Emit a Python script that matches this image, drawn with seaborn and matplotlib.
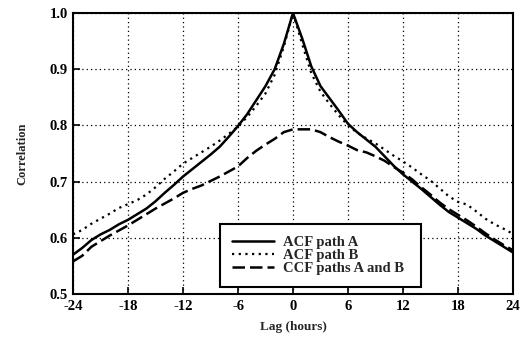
import matplotlib
matplotlib.use("Agg")
import matplotlib.pyplot as plt
import seaborn as sns
import pandas as pd
from matplotlib.ticker import MultipleLocator

# lags in hours
lags = list(range(-24, 25))

acf_a = [0.570, 0.582, 0.596, 0.606, 0.614, 0.624, 0.632, 0.642, 0.652, 0.665,
         0.680, 0.694, 0.709, 0.722, 0.735, 0.748, 0.762, 0.780, 0.799, 0.820,
         0.845, 0.870, 0.900, 0.945, 1.000, 0.955, 0.905, 0.870, 0.848, 0.826,
         0.803, 0.788, 0.775, 0.762, 0.745, 0.728, 0.713, 0.700, 0.687, 0.673,
         0.659, 0.646, 0.636, 0.626, 0.616, 0.604, 0.594, 0.584, 0.574]

acf_b = [0.606, 0.614, 0.625, 0.634, 0.643, 0.653, 0.660, 0.667, 0.677, 0.690,
         0.705, 0.718, 0.732, 0.742, 0.752, 0.762, 0.773, 0.785, 0.798, 0.815,
         0.835, 0.857, 0.890, 0.940, 1.000, 0.945, 0.893, 0.860, 0.838, 0.818,
         0.800, 0.787, 0.777, 0.768, 0.757, 0.746, 0.736, 0.725, 0.713, 0.702,
         0.688, 0.674, 0.664, 0.659, 0.647, 0.634, 0.624, 0.616, 0.607]

ccf_ab = [0.558, 0.568, 0.584, 0.594, 0.604, 0.613, 0.622, 0.632, 0.642, 0.652,
          0.661, 0.670, 0.680, 0.687, 0.693, 0.701, 0.709, 0.718, 0.727, 0.742,
          0.755, 0.766, 0.776, 0.788, 0.793, 0.793, 0.793, 0.788, 0.779, 0.771,
          0.764, 0.756, 0.752, 0.745, 0.737, 0.726, 0.716, 0.704, 0.690, 0.677,
          0.663, 0.651, 0.641, 0.631, 0.620, 0.608, 0.597, 0.587, 0.578]

df = pd.DataFrame({'lag': lags, 'acf_a': acf_a, 'acf_b': acf_b, 'ccf_ab': ccf_ab})

sns.set_style("white")
plt.rcParams['font.family'] = ['Liberation Serif', 'DejaVu Serif']
plt.rcParams['axes.unicode_minus'] = False

fig = plt.figure(figsize=(5.26, 3.43), dpi=100)
ax = fig.add_axes([0.139, 0.143, 0.836, 0.819])

sns.lineplot(x='lag', y='acf_a', data=df, ax=ax, color='black', linewidth=1.8,
             linestyle='-', label='ACF path A')
sns.lineplot(x='lag', y='acf_b', data=df, ax=ax, color='black', linewidth=1.6,
             linestyle=(0, (1, 2)), label='ACF path B')
sns.lineplot(x='lag', y='ccf_ab', data=df, ax=ax, color='black', linewidth=1.8,
             linestyle=(0, (5, 2)), label='CCF paths A and B')

ax.set_xlim(-24, 24)
ax.set_ylim(0.5, 1.0)
ax.xaxis.set_major_locator(MultipleLocator(6))
ax.xaxis.set_minor_locator(MultipleLocator(3))
ax.yaxis.set_major_locator(MultipleLocator(0.1))
ax.yaxis.set_minor_locator(MultipleLocator(0.05))
ax.yaxis.set_major_formatter(plt.FormatStrFormatter('%.1f'))
ax.tick_params(which='both', direction='in', colors='black', labelsize=10.5)
ax.tick_params(which='major', length=5, width=1.2, pad=4)
ax.tick_params(which='minor', length=3, width=1.0)
ax.tick_params(left=True, bottom=True)
for lab in ax.get_xticklabels() + ax.get_yticklabels():
    lab.set_fontweight('bold')

ax.grid(True, which='major', color='black', linestyle=(0, (1, 2.5)), linewidth=0.9)
for s in ax.spines.values():
    s.set_color('black')
    s.set_linewidth(1.5)

ax.set_xlabel('Lag (hours)', fontsize=9.5, fontweight='bold', labelpad=6)
ax.set_ylabel('Correlation', fontsize=9, fontweight='bold', labelpad=15)

leg = ax.legend(loc='lower left', bbox_to_anchor=(0.334, 0.025, 0.457, 0.256),
                mode='expand', prop={'size': 10.5, 'weight': 'bold'},
                frameon=True, fancybox=False,
                handlelength=2.9, handletextpad=0.6, labelspacing=0.0,
                borderaxespad=0, borderpad=0.8)
leg.get_frame().set_edgecolor('black')
leg.get_frame().set_linewidth(1.5)
leg.get_frame().set_alpha(1)

fig.savefig('out.png', dpi=100)
